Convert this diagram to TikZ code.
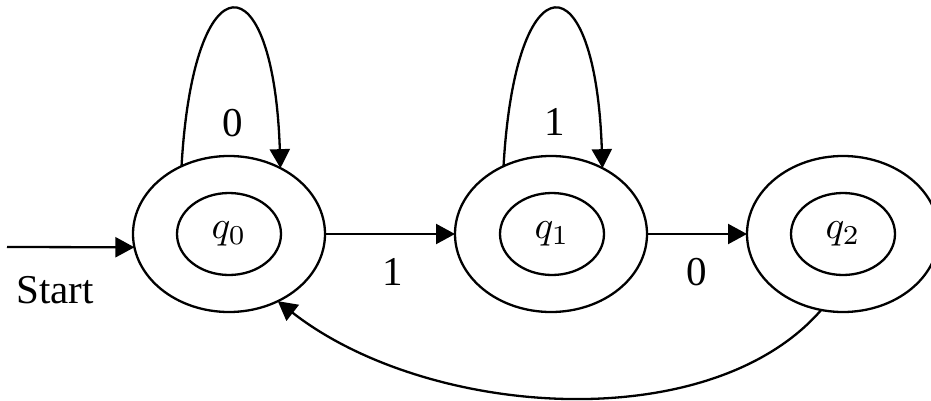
\documentclass[tikz,border=0pt]{standalone}
\usepackage{fontspec}
\setmainfont{Liberation Serif}
\usetikzlibrary{arrows.meta,shapes.geometric}
\newcommand{\qlab}[1]{\scalebox{3.9}{$q_{#1}$}}
\begin{document}
\begin{tikzpicture}[x=1pt,y=1pt,
  outerst/.style={ellipse, draw, line width=2.3pt, minimum width=192pt, minimum height=156pt, inner sep=0pt, outer sep=0pt},
  innerst/.style={ellipse, draw, line width=2.3pt, minimum width=104pt, minimum height=82pt, inner sep=0pt},
  lbl/.style={font=\fontsize{41}{49}\selectfont, inner sep=0pt},
  arr/.style={-{Triangle[length=19pt,width=20pt]}, line width=2.3pt}]
\useasboundingbox (0,0) rectangle (931,400);
\node[outerst] (q0o) at (229,166) {};
\node[innerst] (q0i) at (229,166) {\qlab{0}};
\node[outerst] (q1o) at (551,166) {};
\node[innerst] (q1i) at (552,166) {\qlab{1}};
\node[outerst] (q2o) at (843,166) {};
\node[innerst] (q2i) at (843,166) {\qlab{2}};
\coordinate (s) at (7,153);
\draw[arr] (s) -- (q0o.188);
\node[lbl] (st) at (55,109.5) {Start};
\draw[arr] (q0o) -- (q1o);
\node[lbl] (l1) at (393,128) {1};
\draw[arr] (q1o) -- (q2o);
\node[lbl] (l2) at (697,128) {0};
\draw[arr] (q0o.125) .. controls +(12,209) and +(-7,211) .. (q0o.52);
\node[lbl] (l0) at (233,277) {0};
\draw[arr] (q1o.125) .. controls +(12,209) and +(-7,211) .. (q1o.52);
\node[lbl] (l3) at (555,278) {1};
\draw[arr] (q2o.254) .. controls +(229:170) and +(-38:190) .. (q0o.306);
\end{tikzpicture}
\end{document}
